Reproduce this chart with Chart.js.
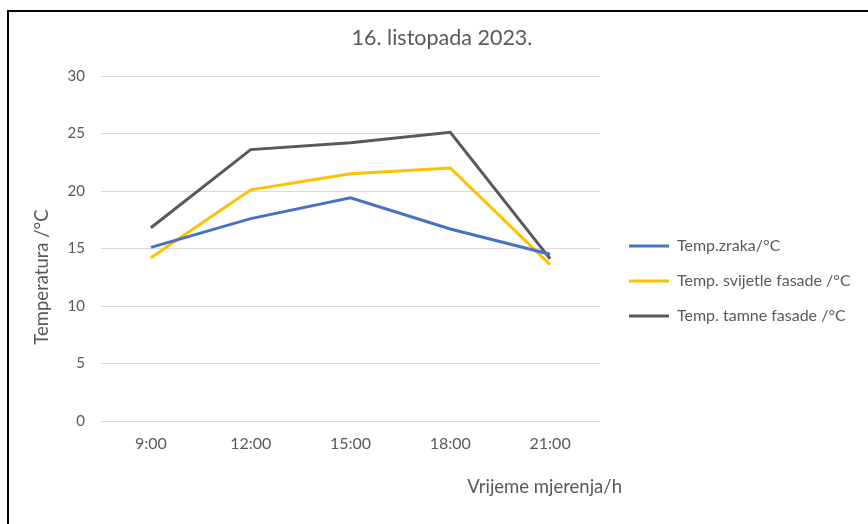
<!DOCTYPE html>
<html>
<head>
<meta charset="utf-8">
<script src="https://cdn.jsdelivr.net/npm/chart.js@4"></script>
<style>
  html, body { margin: 0; padding: 0; background: #fff; }
  #wrap { position: relative; width: 868px; height: 524px; }
  #frame {
    position: absolute; left: 7px; top: 10px; right: 0; bottom: 0;
    border-top: 2px solid #000; border-left: 2px solid #000;
    pointer-events: none;
  }
</style>
</head>
<body>
<div id="wrap">
  <canvas id="tempChart" width="868" height="524"></canvas>
  <div id="frame"></div>
</div>
<script>
// Data
const hours = ['9:00', '12:00', '15:00', '18:00', '21:00'];
const airTemp = [15.1, 17.6, 19.4, 16.7, 14.5];
const lightFacade = [14.2, 20.1, 21.5, 22.0, 13.6];
const darkFacade = [16.8, 23.6, 24.2, 25.1, 14.1];
const yTicks = [0, 5, 10, 15, 20, 25, 30];

const chartTitle = '16. listopada 2023.';
const xTitle = 'Vrijeme mjerenja/h';
const yTitle = 'Temperatura /°C';

const textColor = '#595959';
const fontFamily = 'Lato, "Open Sans", sans-serif';

// Excel had its titles moved by hand, so they are drawn here
const freeTitles = {
    id: 'freeTitles',
    afterLayout(chart) {
        // leave a gap between the plot and the legend lines,
        // and let the legend use the full width up to the edge
        const lg = chart.legend;
        if (lg) {
            lg.left += 10;
            lg.right = chart.width;
            lg.width = lg.right - lg.left;
        }
    },
    afterDraw(chart) {
        const { ctx, chartArea } = chart;
        ctx.save();
        ctx.fillStyle = textColor;
        ctx.textBaseline = 'middle';

        ctx.textAlign = 'center';
        ctx.font = '21.5px ' + fontFamily;
        ctx.fillText(chartTitle, 442, chartArea.top - 38);

        ctx.font = '18.5px ' + fontFamily;
        ctx.textAlign = 'right';
        ctx.fillText(xTitle, chartArea.right + 22, chartArea.bottom + 66);

        ctx.translate(42, chartArea.top + 201);
        ctx.rotate(-Math.PI / 2);
        ctx.textAlign = 'center';
        ctx.fillText(yTitle, 0, 0);
        ctx.restore();
    }
};

function lineSet(label, data, color) {
    return {
        label: label,
        data: data,
        borderColor: color,
        backgroundColor: color,
        borderWidth: 3,
        pointRadius: 0,
        pointStyle: 'line',
        tension: 0,
        fill: false
    };
}

new Chart(document.getElementById('tempChart'), {
    type: 'line',
    data: {
        labels: hours,
        datasets: [
            lineSet('Temp.zraka/°C', airTemp, '#4472C4'),
            lineSet('Temp. svijetle fasade /°C', lightFacade, '#FFC000'),
            lineSet('Temp. tamne fasade /°C', darkFacade, '#595959')
        ]
    },
    options: {
        responsive: false,
        animation: false,
        layout: {
            padding: { top: 76, bottom: 38, left: 0, right: 68 }
        },
        plugins: {
            title: { display: false },
            tooltip: { enabled: false },
            legend: {
                position: 'right',
                labels: {
                    color: textColor,
                    font: { family: fontFamily, size: 16 },
                    usePointStyle: true,
                    pointStyleWidth: 40,
                    padding: 19
                }
            }
        },
        scales: {
            x: {
                offset: true,
                afterFit(scale) { scale.height = 65; },
                grid: { display: false, drawTicks: false },
                border: { display: false },
                ticks: {
                    color: textColor,
                    padding: 13,
                    font: { family: fontFamily, size: 16 }
                }
            },
            y: {
                min: 0,
                max: 30,
                afterFit(scale) { scale.width = 101; },
                afterBuildTicks(scale) {
                    scale.ticks = yTicks.map(v => ({ value: v }));
                },
                grid: { color: '#D9D9D9', lineWidth: 1, drawTicks: false },
                border: { display: false },
                ticks: {
                    color: textColor,
                    padding: 16,
                    font: { family: fontFamily, size: 15 }
                }
            }
        }
    },
    plugins: [freeTitles]
});
</script>
</body>
</html>
